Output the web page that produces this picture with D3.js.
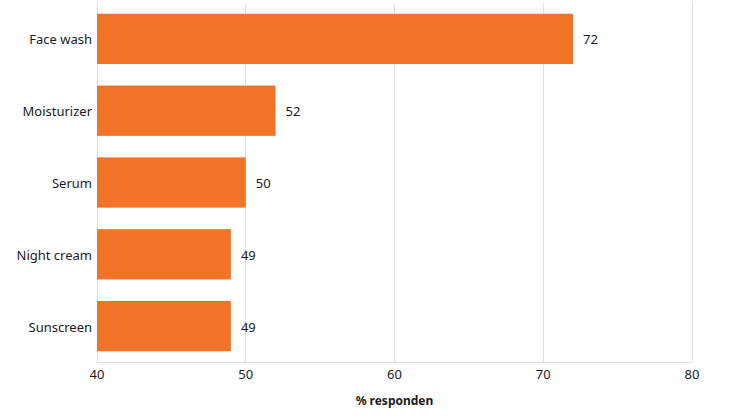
<!DOCTYPE html>
<html><head><meta charset="utf-8">
<script src="https://cdn.jsdelivr.net/npm/d3@7"></script>
<style>body{margin:0;background:#fff}svg{display:block;font-family:"Noto Sans","Open Sans",sans-serif}</style>
</head><body><svg id="c" width="740" height="418"></svg>
<script>
const categories = ["Face wash","Moisturizer","Serum","Night cream","Sunscreen"];
const values = [72,52,50,49,49];
const xTicks = [40,50,60,70,80];
const xTitle = "% responden";

const svg = d3.select("#c");
const x = d3.scaleLinear().domain([40,80]).range([97,692]);
const y = d3.scaleBand().domain(categories).range([3,362]).paddingInner(0.3).paddingOuter(0.15);

svg.append("g").selectAll("line").data(xTicks).join("line")
  .attr("x1",d=>x(d)).attr("x2",d=>x(d)).attr("y1",3).attr("y2",362)
  .attr("stroke","#e1e1e1").attr("stroke-width",1).attr("shape-rendering","crispEdges");
svg.append("line").attr("x1",97).attr("x2",692).attr("y1",362.5).attr("y2",362.5)
  .attr("stroke","#e1e1e1");

svg.append("g").selectAll("rect").data(categories).join("rect")
  .attr("x",x(40)).attr("y",d=>y(d)).attr("height",y.bandwidth())
  .attr("width",(d,i)=>x(values[i])-x(40)).attr("fill","#F37329");

svg.append("g").selectAll("text").data(categories).join("text")
  .attr("x",(d,i)=>x(values[i])+10).attr("y",d=>y(d)+y.bandwidth()/2)
  .attr("dy","0.42em").attr("font-size",13).attr("fill","#1b1b1b")
  .text((d,i)=>values[i]);

svg.append("g").selectAll("text").data(categories).join("text")
  .attr("x",92).attr("y",d=>y(d)+y.bandwidth()/2).attr("dy","0.42em")
  .attr("text-anchor","end").attr("font-size",13).attr("fill","#1b1b1b").text(d=>d);

svg.append("g").selectAll("text").data(xTicks).join("text")
  .attr("x",d=>x(d)).attr("y",374).attr("dy","0.4em").attr("text-anchor","middle")
  .attr("font-size",13).attr("fill","#1b1b1b").text(d=>d);

svg.append("text").attr("x",x(60)).attr("y",400).attr("dy","0.38em").attr("text-anchor","middle")
  .attr("font-size",12).attr("font-weight","bold").attr("fill","#1b1b1b").text(xTitle);
</script></body></html>
